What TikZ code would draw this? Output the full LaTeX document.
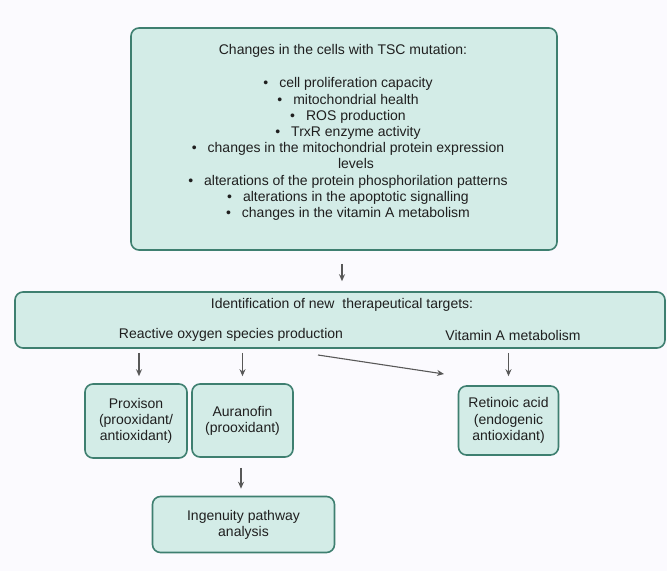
\documentclass[tikz,border=0pt]{standalone}
\usepackage{fontspec}
\setmainfont{Liberation Sans}
\usetikzlibrary{arrows.meta}
\definecolor{bgc}{HTML}{FBFAFE}
\definecolor{boxfill}{HTML}{D3ECE7}
\definecolor{boxdraw}{HTML}{3E7F70}
\definecolor{arrc}{HTML}{3A3A3A}
\tikzset{
  box/.style={draw=boxdraw, fill=boxfill, line width=1.6pt, rounded corners=8pt, inner sep=0pt},
  txt/.style={font=\fontsize{14pt}{16.2pt}\selectfont, text=black!88, align=center, inner sep=0pt},
  arr/.style={draw=arrc!85, line width=1.1pt, -{Stealth[length=7pt,width=6pt]}},
}
\newcommand{\bul}{•\hspace{11pt}}
\begin{document}
\begin{tikzpicture}[x=1pt,y=-1pt]
\fill[bgc] (0,0) rectangle (667,571);
\useasboundingbox (0,0) rectangle (667,571);

% boxes
\node[box, minimum width=426pt, minimum height=222pt] (top) at (344,139) {};
\node[box, minimum width=650pt, minimum height=56pt] (mid) at (340,320) {};
\node[box, minimum width=102pt, minimum height=74pt] (prox) at (136,421) {};
\node[box, minimum width=101pt, minimum height=73pt] (aur) at (242.5,420.5) {};
\node[box, minimum width=100pt, minimum height=69pt] (ret) at (508.5,420.5) {};
\node[box, minimum width=182pt, minimum height=56pt] (ipa) at (243.5,524.5) {};

% texts
\node[txt] (toptitle) at (343,51) {Changes in the cells with TSC mutation:};
\node[txt] (toplist) at (348,149) {%
\bul cell proliferation capacity\\
\bul mitochondrial health\\
\bul ROS production\\
\bul TrxR enzyme activity\\
\bul changes in the mitochondrial protein expression\\
\hspace*{16pt}levels\\
\bul alterations of the protein phosphorilation patterns\\
\bul alterations in the apoptotic signalling\\
\bul changes in the vitamin A metabolism};
\node[txt] (midtitle) at (342,305) {Identification of new\ \ therapeutical targets:};
\node[txt] (ros) at (231,335) {Reactive oxygen species production};
\node[txt] (vita) at (513,335) {Vitamin A metabolism};
\node[txt] (proxt) at (prox.center) {Proxison\\(prooxidant/\\antioxidant)};
\node[txt] (aurt) at (aur.center) {Auranofin\\(prooxidant)};
\node[txt] (rett) at (ret.center) {Retinoic acid\\(endogenic\\antioxidant)};
\node[txt] (ipat) at (ipa.center) {Ingenuity pathway\\analysis};

% connectors
\draw[arr, shorten <=13pt, shorten >=10pt] ([xshift=-2pt]top.south) -- ([xshift=2pt]mid.north);
\draw[arr, shorten <=4pt, shorten >=7pt] ([xshift=3pt]prox.north |- mid.south) -- ([xshift=3pt]prox.north);
\draw[arr, shorten <=4pt, shorten >=7pt] (aur.north |- mid.south) -- (aur.north);
\draw[arr, shorten <=4pt, shorten >=9pt] (ret.north |- mid.south) -- (ret.north);
\coordinate (d1) at (318,355);
\coordinate (d2) at (444,374);
\draw[arr] (d1) -- (d2);
\draw[arr, shorten <=10pt, shorten >=7pt] ([xshift=-1.5pt]aur.south) -- ([xshift=-2.5pt]ipa.north);
\end{tikzpicture}
\end{document}
